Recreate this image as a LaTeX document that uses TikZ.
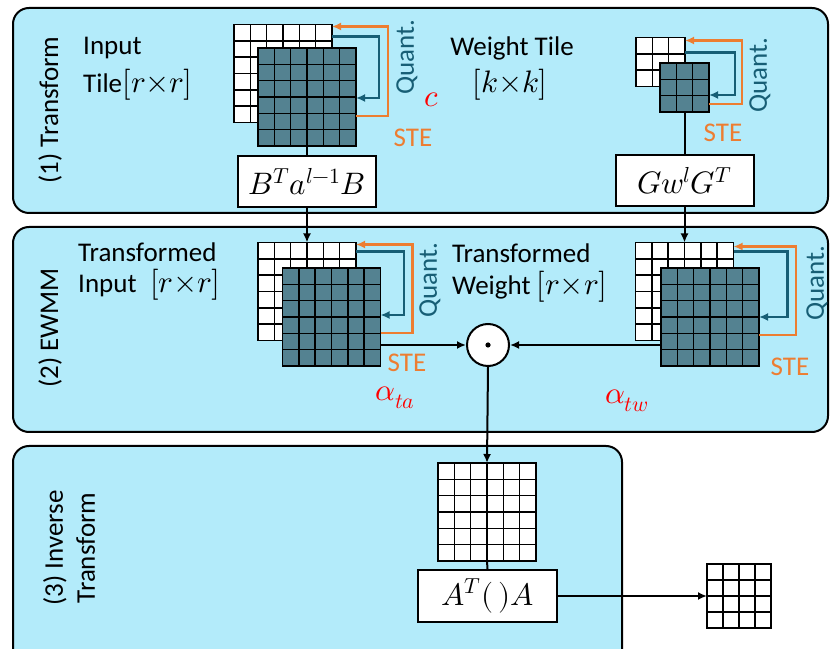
\documentclass[tikz,border=0pt]{standalone}
\usepackage{fontspec}
\usepackage{unicode-math}
\setmainfont{Carlito}
\setmathfont{Latin Modern Math}[Scale=1.15]
\usepackage{tikz}
\usetikzlibrary{arrows.meta}
\usetikzlibrary{positioning}
\definecolor{panelblue}{RGB}{179,235,250}
\definecolor{tilefill}{RGB}{84,130,145}
\definecolor{quantteal}{RGB}{23,94,117}
\definecolor{steorange}{RGB}{237,125,49}
\definecolor{scalered}{RGB}{255,0,0}
\tikzstyle{stage} = [draw, line width=2pt, fill=panelblue, rounded corners=16pt]
\tikzstyle{backtile} = [rectangle, draw, line width=1.5pt, fill=white, inner sep=0pt, outer sep=0pt]
\tikzstyle{fronttile} = [backtile, fill=tilefill]
\tikzstyle{block} = [rectangle, draw, line width=2pt, fill=white,
    minimum width=138pt, minimum height=51pt, inner sep=0pt]
\tikzstyle{line} = [draw, line width=2pt, -{Latex[length=9pt,width=8pt]}]
\tikzstyle{quant} = [draw=quantteal, line width=2.5pt, -{Latex[length=9pt,width=8pt]}]
\tikzstyle{ste} = [draw=steorange, line width=2.5pt, -{Latex[length=9pt,width=8pt]}]
\tikzstyle{txt} = [inner sep=0pt]
% inner cell lines of a tile node: name, cells-1, cell size
\newcommand{\cellgrid}[3]{%
  \foreach \k in {1,...,#2} {
    \draw[line width=1.5pt] ([xshift=\k*#3]#1.south west) -- ([xshift=\k*#3]#1.north west);
    \draw[line width=1.5pt] ([yshift=\k*#3]#1.south west) -- ([yshift=\k*#3]#1.south east);
  }}

\begin{document}
\begin{tikzpicture}[x=1pt,y=1pt,font=\fontsize{27}{32}\selectfont]
\useasboundingbox (0,0) rectangle (830,648);

% stages
\draw[stage] (13,640) rectangle (828,435);
\draw[stage] (13,421) rectangle (828,216);
\draw[stage] (13,202) rectangle (622,-25);

\node[txt,rotate=90] (s1) at (50,538) {(1) Transform};
\node[txt,rotate=90] (s2) at (50,320) {(2) EWMM};
\node[txt,rotate=90,align=center] (s3) at (69,100) {(3) Inverse\\Transform};

% (1) transform
\node[backtile,minimum size=98pt] (inB) at (283,574.5) {};
\cellgrid{inB}{5}{16.33pt}
\node[fronttile,minimum size=98pt] (inF) at (307,551) {};
\cellgrid{inF}{5}{16.33pt}
\node[txt,anchor=west] (inlab) at (83,600) {Input};
\node[txt,anchor=west] (intile) at (83,563) {Tile$[r{\times}r]$};

\node[backtile,minimum size=49pt] (wB) at (660.5,586) {};
\cellgrid{wB}{2}{16.33pt}
\node[fronttile,minimum size=49pt] (wF) at (684.5,560.5) {};
\cellgrid{wF}{2}{16.33pt}
\node[txt] (wlab) at (512,600) {Weight Tile};
\node[txt] (wtile) at (510,563) {$[k{\times}k]$};

\node[block] (bt) at (307,466.5) {$B^{T}a^{l-1}B$};
\node[block] (gw) at (684.5,467) {$Gw^{l}G^{T}$};

\draw[ste] ([yshift=30pt]inF.south east) -- ++(32,0) |- ([yshift=-2pt]inB.north east);
\draw[quant] ([yshift=-12pt]inB.north east) -- ++(47,0) |- ([yshift=48pt]inF.south east);
\draw[ste] ([yshift=8pt]wF.south east) -- ++(33,0) |- ([yshift=-3pt]wB.north east);
\draw[quant] ([yshift=-15pt]wB.north east) -- ++(50,0) |- ([yshift=17pt]wF.south east);

\node[txt,rotate=90,text=quantteal] (q1) at (407,591) {Quant.};
\node[txt,text=steorange] (e1) at (413,510) {STE};
\node[txt,text=scalered] (c1) at (432,548) {$c$};
\node[txt,rotate=90,text=quantteal] (q2) at (760,573) {Quant.};
\node[txt,text=steorange] (e2) at (723,515) {STE};

% (2) EWMM
\node[backtile,minimum size=98pt] (tiB) at (307,356.5) {};
\cellgrid{tiB}{5}{16.33pt}
\node[fronttile,minimum size=98pt] (tiF) at (331.5,331) {};
\cellgrid{tiF}{5}{16.33pt}
\node[txt,anchor=west] (tilab) at (78,396) {Transformed};
\node[txt,anchor=west] (titile) at (78,363) {Input\enspace $[r{\times}r]$};

\node[backtile,minimum size=98pt] (twB) at (684.5,356.5) {};
\cellgrid{twB}{5}{16.33pt}
\node[fronttile,minimum size=98pt] (twF) at (710,331) {};
\cellgrid{twF}{5}{16.33pt}
\node[txt,anchor=west] (twlab) at (452,395) {Transformed};
\node[txt,anchor=west] (twtile) at (452,361) {Weight $[r{\times}r]$};

\draw[ste] ([yshift=33pt]tiF.south east) -- ++(32,0) |- ([yshift=-2pt]tiB.north east);
\draw[quant] ([yshift=-9pt]tiB.north east) -- ++(48,0) |- ([yshift=51pt]tiF.south east);
\draw[ste] ([yshift=31pt]twF.south east) -- ++(37,0) |- ([yshift=-4pt]twB.north east);
\draw[quant] ([yshift=-9pt]twB.north east) -- ++(54,0) |- ([yshift=49pt]twF.south east);

\node[txt,rotate=90,text=quantteal] (q3) at (430,368) {Quant.};
\node[txt,text=steorange] (e3) at (407,285) {STE};
\node[txt,text=scalered] (ata) at (395,250) {$\alpha_{ta}$};
\node[txt,rotate=90,text=quantteal] (q4) at (817,365) {Quant.};
\node[txt,text=steorange] (e4) at (790,281) {STE};
\node[txt,text=scalered] (atw) at (627,247) {$\alpha_{tw}$};

\node[circle,draw,line width=2pt,fill=white,minimum size=42pt,inner sep=0pt] (ewmm) at (488,303) {};
\fill (ewmm.center) circle (2.6pt);

% (3) inverse transform
\node[backtile,minimum size=98pt] (outT) at (487,136) {};
\cellgrid{outT}{5}{16.33pt}
\node[block,minimum width=139pt,minimum height=52pt] (at) at (487.5,52) {$A^{T}(\,)A$};
\node[backtile,minimum size=64pt] (outS) at (739,52) {};
\cellgrid{outS}{3}{16pt}

% connectors
\draw[line width=2pt] (inF.south) -- (bt.north);
\draw[line width=2pt] (wF.south) -- (gw.north);
\draw[line] (bt.south) -- (tiB.north);
\draw[line] (gw.south) -- (twB.north);
\draw[line] (tiF.east |- ewmm.west) -- (ewmm.west);
\draw[line] (twF.west |- ewmm.east) -- (ewmm.east);
\draw[line] (ewmm.south) -- (outT.north);
\draw[line width=2pt] (outT.south) -- (at.north);
\draw[line] (at.east) -- (outS.west);

\end{tikzpicture}
\end{document}
